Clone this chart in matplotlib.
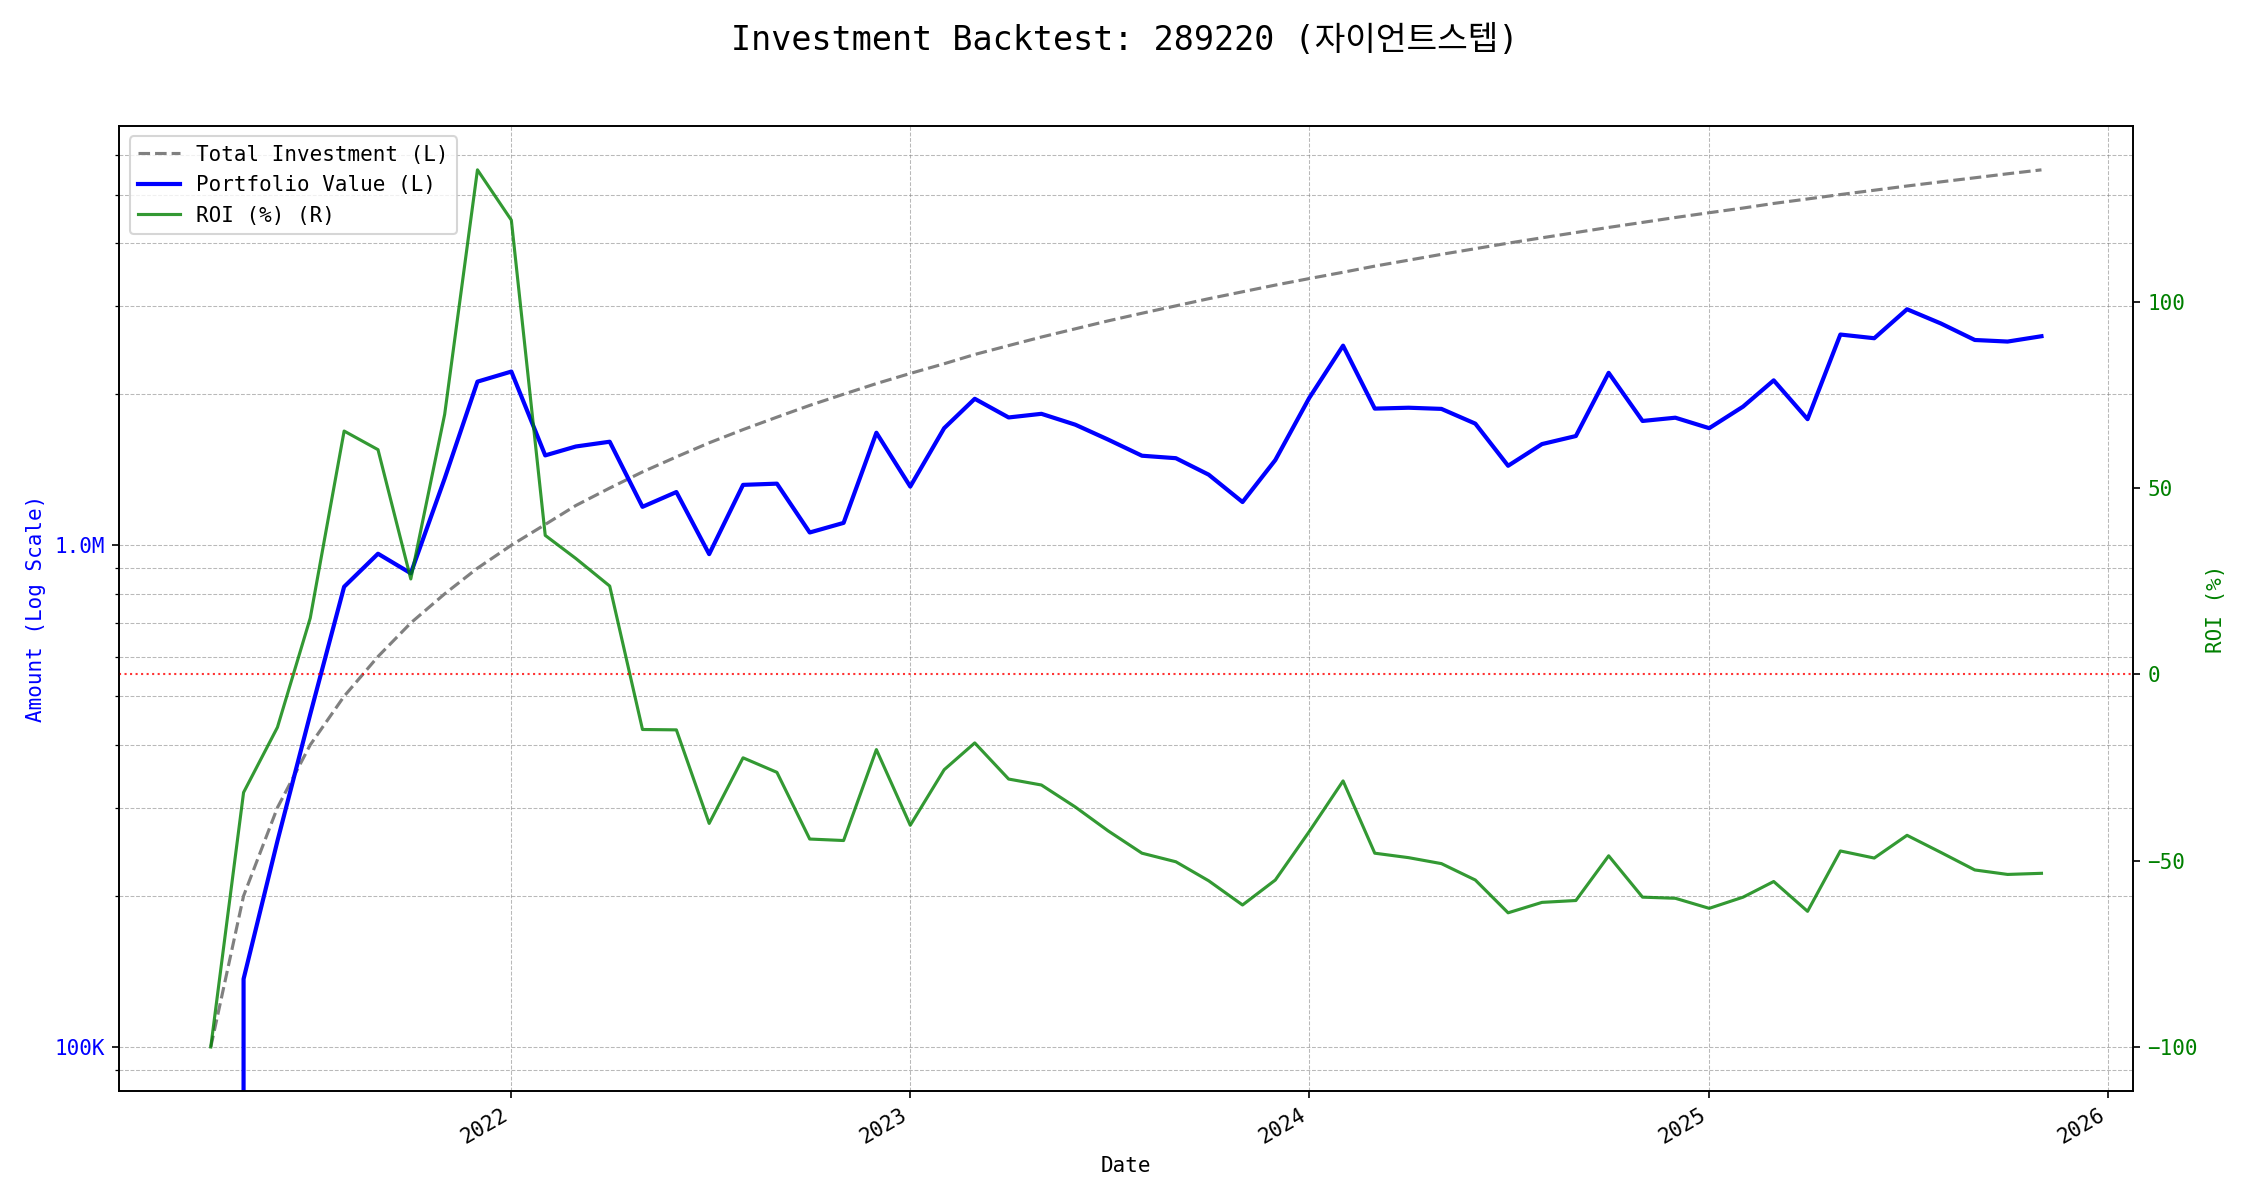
import matplotlib
matplotlib.use("Agg")
import matplotlib.pyplot as plt
import matplotlib.ticker as mticker
import pandas as pd

plt.rcParams["font.family"] = ["DejaVu Sans Mono", "Noto Sans CJK KR"]

TICKER = "289220"
NAME = "자이언트스텝"

# monthly backtest points (56 months)
dates = pd.date_range("2021-04-01", periods=56, freq="MS")

# cumulative amount invested, in thousands of KRW
total_invest_k = [
    100, 200, 300, 400, 500, 600, 700, 800, 900, 1000,
    1100, 1200, 1300, 1400, 1500, 1600, 1700, 1800, 1900, 2000,
    2100, 2200, 2300, 2400, 2500, 2600, 2700, 2800, 2900, 3000,
    3100, 3200, 3300, 3400, 3500, 3600, 3700, 3800, 3900, 4000,
    4100, 4200, 4300, 4400, 4500, 4600, 4700, 4800, 4900, 5000,
    5100, 5200, 5300, 5400, 5500, 5600,
]

# portfolio value, in thousands of KRW
portfolio_k = [
    0, 136.6, 257.4, 460.4, 826.5, 961.8, 879.2, 1358.4, 2118.6, 2219.0,
    1510.3, 1573.2, 1608.1, 1192.8, 1276.5, 960.0, 1319.2, 1326.6, 1060.2, 1108.0,
    1675.8, 1309.0, 1711.2, 1958.4, 1797.5, 1827.8, 1738.8, 1624.0, 1508.0, 1491.0,
    1382.6, 1219.2, 1478.4, 1965.2, 2499.0, 1872.0, 1879.6, 1869.6, 1747.2, 1440.0,
    1590.8, 1650.6, 2205.9, 1768.8, 1795.5, 1711.2, 1889.4, 2131.2, 1783.6, 2630.0,
    2585.7, 2953.6, 2766.6, 2565.0, 2546.5, 2609.6,
]

# return on investment, %
roi_pct = [
    -100.0, -31.7, -14.2, 15.1, 65.3, 60.3, 25.6, 69.8, 135.4, 121.9,
    37.3, 31.1, 23.7, -14.8, -14.9, -40.0, -22.4, -26.3, -44.2, -44.6,
    -20.2, -40.5, -25.6, -18.4, -28.1, -29.7, -35.6, -42.0, -48.0, -50.3,
    -55.4, -61.9, -55.2, -42.2, -28.6, -48.0, -49.2, -50.8, -55.2, -64.0,
    -61.2, -60.7, -48.7, -59.8, -60.1, -62.8, -59.8, -55.6, -63.6, -47.4,
    -49.3, -43.2, -47.8, -52.5, -53.7, -53.4,
]


def _amount_fmt(x, pos):
    if x >= 1e6:
        return f"{x / 1e6:.1f}M"
    return f"{x / 1e3:.0f}K"


fig, ax1 = plt.subplots(figsize=(15, 8), dpi=150)

invest = [v * 1000 for v in total_invest_k]
value = [v * 1000 for v in portfolio_k]

l1, = ax1.plot(dates, invest, "--", color="gray", linewidth=1.5, label="Total Investment (L)")
l2, = ax1.plot(dates, value, "-", color="blue", linewidth=2, label="Portfolio Value (L)")
ax1.set_yscale("log")
ax1.yaxis.set_major_formatter(mticker.FuncFormatter(_amount_fmt))
ax1.yaxis.set_minor_formatter(mticker.NullFormatter())
ax1.set_ylabel("Amount (Log Scale)", color="blue")
ax1.tick_params(axis="y", labelcolor="blue")
ax1.set_xlabel("Date")
ax1.grid(True, which="both", linestyle="--", color="gray", alpha=0.55, linewidth=0.5)

ax2 = ax1.twinx()
l3, = ax2.plot(dates, roi_pct, "-", color="green", alpha=0.8, linewidth=1.5, label="ROI (%) (R)")
ax2.axhline(0, color="red", linestyle=":", linewidth=1, alpha=0.8)
ax2.set_ylabel("ROI (%)", color="green")
ax2.tick_params(axis="y", labelcolor="green")

ax2.legend(handles=[l1, l2, l3], loc="upper left")

fig.autofmt_xdate()
fig.subplots_adjust(left=0.053, right=0.948, top=0.895, bottom=0.091)
fig.suptitle(f"Investment Backtest: {TICKER} ({NAME})", fontsize=16, y=0.98)

fig.savefig("out.png", dpi=150)
